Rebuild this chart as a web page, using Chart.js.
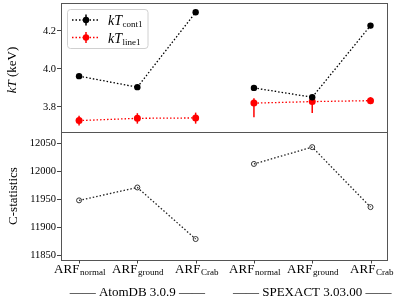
<!DOCTYPE html>
<html>
<head>
<meta charset="utf-8">
<script src="https://cdn.jsdelivr.net/npm/chart.js@4"></script>
<style>
  html, body { margin: 0; padding: 0; background: #fff; }
  #wrap { position: relative; width: 409px; height: 307px; overflow: hidden; }
  #wrap canvas { position: absolute; left: 0; }
</style>
</head>
<body>
<div id="wrap">
  <canvas id="grafTop" width="409" height="327" style="top:-20px"></canvas>
  <canvas id="grafBottom" width="409" height="307" style="top:0"></canvas>
</div>
<script>
// datos
const arfSubs = ["normal", "ground", "Crab", "normal", "ground", "Crab"];
const groupNames = ["AtomDB 3.0.9", "SPEXACT 3.03.00"];
const kTcont1 = [3.962, 3.904, 4.298, 3.900, 3.851, 4.228];
const kTcont1Err = [0.008, 0.008, 0.010, 0.008, 0.008, 0.014];
const kTline1 = [3.728, 3.740, 3.742, 3.820, 3.828, 3.833];
const kTline1ErrUp = [0.026, 0.027, 0.028, 0.026, 0.028, 0.018];
const kTline1ErrDown = [0.026, 0.028, 0.030, 0.074, 0.060, 0.018];
const cstat = [11948, 11971, 11879, 12013, 12043, 11936];

const SERIF = "'Liberation Serif', 'DejaVu Serif', serif";
const DASH = [1.5, 2];

function puntos(valores, g) {
  return [0, 1, 2].map(function (i) {
    return { x: g * 3 + i, y: valores[g * 3 + i] };
  });
}

function serie(valores, g, color, extra) {
  return Object.assign({
    data: puntos(valores, g),
    borderColor: color,
    borderWidth: 1.3,
    borderDash: DASH,
    pointRadius: 3.2,
    pointBackgroundColor: color,
    pointBorderWidth: 0,
    tension: 0,
    fill: false,
  }, extra || {});
}

function textoSub(ctx, x, y, main, sub, mainFont, subFont, subDy, align) {
  ctx.font = mainFont;
  const w1 = ctx.measureText(main).width;
  ctx.font = subFont;
  const w2 = ctx.measureText(sub).width;
  let x0 = x;
  if (align === "center") x0 = x - (w1 + w2) / 2;
  ctx.textAlign = "left";
  ctx.font = mainFont;
  ctx.fillText(main, x0, y);
  ctx.font = subFont;
  ctx.fillText(sub, x0 + w1 + 0.5, y + subDy);
}

function marco(chart) {
  const a = chart.chartArea;
  const ctx = chart.ctx;
  ctx.save();
  ctx.strokeStyle = "#555";
  ctx.lineWidth = 1;
  ctx.strokeRect(Math.round(a.left) + 0.5, Math.round(a.top) + 0.5,
    Math.round(a.right - a.left) - 1, Math.round(a.bottom - a.top));
  ctx.restore();
}

function tituloY(chart, cx, cy, partes) {
  const ctx = chart.ctx;
  ctx.save();
  ctx.translate(cx, cy);
  ctx.rotate(-Math.PI / 2);
  ctx.fillStyle = "#000";
  ctx.textBaseline = "middle";
  let total = 0;
  partes.forEach(function (p) { ctx.font = p.font; total += ctx.measureText(p.t).width; });
  let x = -total / 2;
  partes.forEach(function (p) {
    ctx.font = p.font;
    ctx.textAlign = "left";
    ctx.fillText(p.t, x, 0);
    x += ctx.measureText(p.t).width;
  });
  ctx.restore();
}

const errorBars = {
  id: "errorBars",
  beforeDatasetsDraw: function (chart) {
    const xs = chart.scales.x, ys = chart.scales.y, ctx = chart.ctx;
    ctx.save();
    ctx.lineWidth = 1.5;
    kTcont1.forEach(function (v, i) {
      const px = xs.getPixelForValue(i);
      ctx.strokeStyle = "#000";
      ctx.beginPath();
      ctx.moveTo(px, ys.getPixelForValue(v + kTcont1Err[i]));
      ctx.lineTo(px, ys.getPixelForValue(v - kTcont1Err[i]));
      ctx.stroke();
    });
    kTline1.forEach(function (v, i) {
      const px = xs.getPixelForValue(i);
      ctx.strokeStyle = "#ff0000";
      ctx.beginPath();
      ctx.moveTo(px, ys.getPixelForValue(v + kTline1ErrUp[i]));
      ctx.lineTo(px, ys.getPixelForValue(v - kTline1ErrDown[i]));
      ctx.stroke();
    });
    ctx.restore();
  },
  afterDraw: function (chart) {
    marco(chart);
    const ctx = chart.ctx;
    const top = chart.chartArea.top;
    tituloY(chart, 13, top + 67, [
      { t: "kT", font: "italic 13px " + SERIF },
      { t: " (keV)", font: "13px " + SERIF },
    ]);
    // leyenda
    ctx.save();
    const lx = 67.5, ly = top + 6.5, lw = 80.5, lh = 39;
    ctx.beginPath();
    ctx.roundRect(lx, ly, lw, lh, 3);
    ctx.fillStyle = "rgba(255,255,255,0.8)";
    ctx.fill();
    ctx.strokeStyle = "#d0d0d0";
    ctx.lineWidth = 1;
    ctx.stroke();
    const entradas = [
      { color: "#000", sub: "cont1", y: top + 17 },
      { color: "#ff0000", sub: "line1", y: top + 34.5 },
    ];
    entradas.forEach(function (e) {
      ctx.strokeStyle = e.color;
      ctx.lineWidth = 1.3;
      ctx.setLineDash(DASH);
      ctx.beginPath();
      ctx.moveTo(72, e.y);
      ctx.lineTo(100, e.y);
      ctx.stroke();
      ctx.setLineDash([]);
      ctx.lineWidth = 1.5;
      ctx.beginPath();
      ctx.moveTo(86, e.y - 5.5);
      ctx.lineTo(86, e.y + 5.5);
      ctx.stroke();
      ctx.fillStyle = e.color;
      ctx.beginPath();
      ctx.arc(86, e.y, 3.2, 0, Math.PI * 2);
      ctx.fill();
      ctx.fillStyle = "#000";
      ctx.textBaseline = "alphabetic";
      textoSub(ctx, 108, e.y + 5, "kT", e.sub, "italic 14px " + SERIF, "9px " + SERIF, 2, "left");
    });
    ctx.restore();
  },
};

const etiquetas = {
  id: "etiquetas",
  afterDraw: function (chart) {
    marco(chart);
    const xs = chart.scales.x, ctx = chart.ctx, a = chart.chartArea;
    ctx.save();
    ctx.strokeStyle = "#444";
    ctx.lineWidth = 1;
    ctx.fillStyle = "#000";
    ctx.textBaseline = "alphabetic";
    arfSubs.forEach(function (s, i) {
      const px = Math.round(xs.getPixelForValue(i)) + 0.5;
      ctx.beginPath();
      ctx.moveTo(px, a.bottom);
      ctx.lineTo(px, a.bottom + 3.5);
      ctx.stroke();
      textoSub(ctx, px, 273, "ARF", s, "13px " + SERIF, "9px " + SERIF, 2, "center");
    });
    groupNames.forEach(function (g, k) {
      const px = xs.getPixelForValue(k * 3 + 1);
      ctx.font = "13px " + SERIF;
      ctx.textAlign = "center";
      ctx.fillText("\u2014\u2014 " + g + " \u2014\u2014", px, 296);
    });
    ctx.restore();
    tituloY(chart, 14, (a.top + a.bottom) / 2, [
      { t: "C-statistics", font: "13px " + SERIF },
    ]);
  },
};

const ejeX = { type: "linear", min: -0.31, max: 5.3, display: false };

function ejeY(min, max, paso, dec) {
  return {
    type: "linear",
    min: min,
    max: max,
    afterFit: function (scale) { scale.width = 61; },
    border: { display: false },
    grid: { drawOnChartArea: false, drawTicks: true, tickLength: 4, color: "#444" },
    ticks: {
      stepSize: paso,
      includeBounds: false,
      padding: 1,
      color: "#000",
      font: { family: SERIF, size: 10.5 },
      callback: function (v) { return v.toFixed(dec); },
    },
  };
}

const comunes = {
  responsive: false,
  animation: false,
  events: [],
  plugins: { legend: { display: false }, tooltip: { enabled: false } },
};

new Chart(document.getElementById("grafTop"), {
  type: "line",
  data: {
    datasets: [
      serie(kTcont1, 0, "#000"),
      serie(kTcont1, 1, "#000"),
      serie(kTline1, 0, "#ff0000", { pointRadius: 3.5 }),
      serie(kTline1, 1, "#ff0000", { pointRadius: 3.5 }),
    ],
  },
  options: Object.assign({}, comunes, {
    layout: { padding: { top: 23, bottom: 175, left: 0, right: 21 } },
    scales: { x: ejeX, y: ejeY(3.668, 4.347, 0.2, 1) },
  }),
  plugins: [errorBars],
});

const circulo = {
  pointRadius: 2.5,
  pointBackgroundColor: "rgba(0,0,0,0)",
  pointBorderColor: "#333",
  pointBorderWidth: 1,
  borderColor: "#222",
};

new Chart(document.getElementById("grafBottom"), {
  type: "line",
  data: {
    datasets: [
      serie(cstat, 0, "#222", circulo),
      serie(cstat, 1, "#222", circulo),
    ],
  },
  options: Object.assign({}, comunes, {
    layout: { padding: { top: 132, bottom: 47, left: 0, right: 21 } },
    scales: { x: ejeX, y: ejeY(11841.6, 12070, 50, 0) },
  }),
  plugins: [etiquetas],
});
</script>
</body>
</html>
